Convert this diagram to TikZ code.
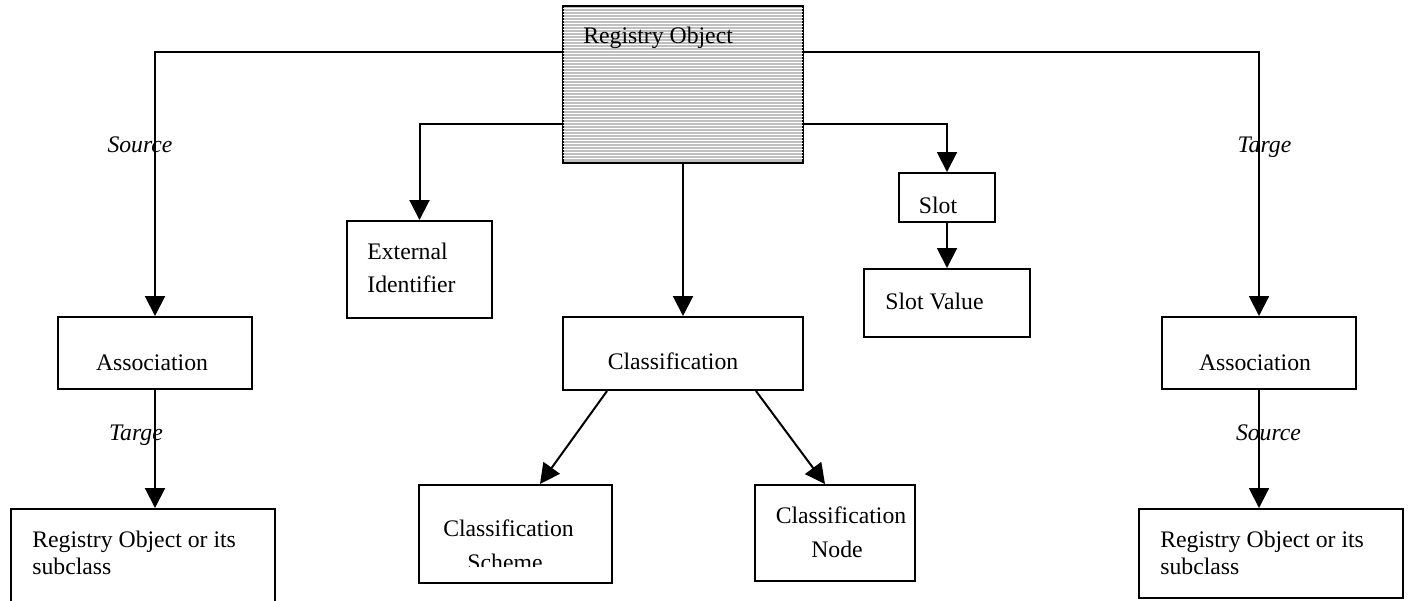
\documentclass[tikz,border=0pt]{standalone}
\usepackage{fontspec}
\setmainfont{Liberation Serif}
\usepackage{tikz}
\usetikzlibrary{arrows.meta,calc}
\newcommand{\diafont}{\fontsize{13.5}{16}\selectfont}

\tikzset{
  box/.style={draw=black, line width=0.04cm, rectangle, inner sep=0pt},
  conn/.style={black, line width=0.04cm, -{Triangle[length=0.4cm,width=0.4cm]}},
  txt/.style={anchor=base, inner sep=0pt, font=\diafont},
  txtl/.style={anchor=base west, inner sep=0pt, font=\diafont},
  lbl/.style={anchor=base, inner sep=0pt, font=\diafont\itshape}
}

\begin{document}
\begin{tikzpicture}[x=0.02cm, y=-0.02cm]
\useasboundingbox (0,0) rectangle (1410,600);
\clip (0,0) rectangle (1410,600);
% boxes
\node[box, fill=black!25, minimum width=4.82cm, minimum height=3.14cm] (regobj) at (683,84.5) {};
\foreach \y in {3,6,...,154}
  \draw[white, line width=0.016cm] ($(regobj.north west)+(1.5,\y)$) -- ($(regobj.north east)+(-1.5,\y)$);
\node[box, minimum width=3.88cm, minimum height=1.44cm] (assocL) at (155,353) {};
\node[box, minimum width=2.9cm, minimum height=1.94cm] (extid) at (419.5,269.5) {};
\node[box, minimum width=4.8cm, minimum height=1.46cm] (classif) at (683,353.5) {};
\node[box, minimum width=1.92cm, minimum height=0.98cm] (slot) at (947,197.5) {};
\node[box, minimum width=3.34cm, minimum height=1.36cm] (slotval) at (947,303) {};
\node[box, minimum width=3.88cm, minimum height=1.44cm] (assocR) at (1259,353) {};
\node[box, minimum width=3.86cm, minimum height=1.96cm] (scheme) at (515.5,534) {};
\node[box, minimum width=3.2cm, minimum height=1.92cm] (cnode) at (835,533) {};
\node[box, minimum width=5.28cm, minimum height=2.4cm] (objL) at (143,569) {};
\node[box, minimum width=5.28cm, minimum height=1.78cm] (objR) at (1271,553.5) {};
% texts
\node[txtl] (regobjT) at (583,43) {Registry Object};
\node[txtl] (extidA) at (367,259) {External};
\node[txtl] (extidB) at (367,292) {Identifier};
\node[txt] (assocLT) at (152,370) {Association};
\node[txt] (classifT) at (673,369) {Classification};
\node[txt] (slotT) at (938,213) {Slot};
\node[txtl] (slotvalT) at (885,309) {Slot Value};
\node[txt] (assocRT) at (1255,370) {Association};
\node[txt] (schemeA) at (508.5,536) {Classification};
\begin{scope}
\clip (419,480) rectangle (612,566);
\node[txt] (schemeB) at (505,570) {Scheme};
\end{scope}
\node[txt] (cnodeA) at (841,523) {Classification};
\node[txt] (cnodeB) at (837,557) {Node};
\node[txtl] (objLA) at (32,547) {Registry Object or its};
\node[txtl] (objLB) at (32,574) {subclass};
\node[txtl] (objRA) at (1160,547) {Registry Object or its};
\node[txtl] (objRB) at (1160,574) {subclass};
% connectors
\draw[conn] ($(regobj.north west)+(0,47)$) -| (assocL.north);
\draw[conn] ($(regobj.north west)+(0,119)$) -| (extid.north);
\draw[conn] (regobj.south) -- (classif.north);
\draw[conn] ($(regobj.north east)+(0,119)$) -| (slot.north);
\draw[conn] (slot.south) -- (slotval.north);
\draw[conn] ($(regobj.north east)+(0,47)$) -| (assocR.north);
\draw[conn] ($(classif.south west)+(45,0)$) -- ($(scheme.north)+(24.5,0)$);
\draw[conn] ($(classif.south east)+(-48,0)$) -- ($(cnode.north)+(-10,0)$);
\draw[conn] (assocL.south) -- (assocL.south |- objL.north);
\draw[conn] (assocR.south) -- (assocR.south |- objR.north);
% role labels
\node[lbl] (srcL) at (140,152) {Source};
\node[lbl] (tgtL) at (136,440) {Targe};
\node[lbl] (tgtR) at (1264.5,152) {Targe};
\node[lbl] (srcR) at (1268.5,440) {Source};
\end{tikzpicture}
\end{document}
